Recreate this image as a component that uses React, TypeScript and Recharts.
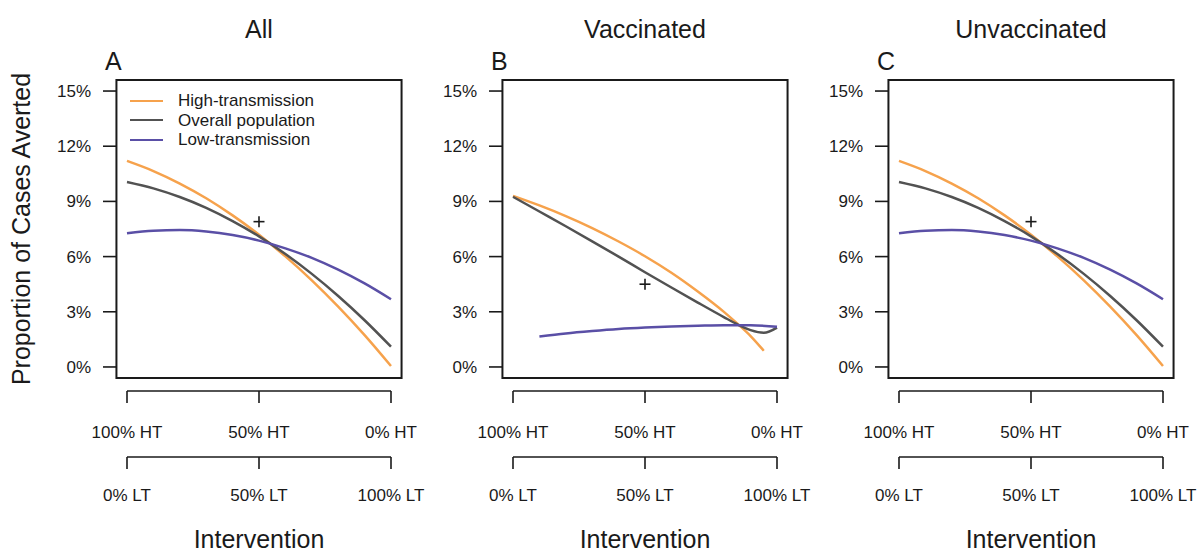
import React from 'react';
import { ComposedChart, Line, Scatter, XAxis, YAxis, ReferenceArea, Legend } from 'recharts';

const HIGH_COLOR = '#f6a24c';
const OVERALL_COLOR = '#525252';
const LOW_COLOR = '#5a4fa6';
const INK = '#1a1a1a';
const FONT = '"Liberation Sans", Arial, Helvetica, sans-serif';

// shared x grid (share of the intervention given to the high-transmission group, reversed)
const steps = [0, 0.1, 0.2, 0.3, 0.4, 0.5, 0.6, 0.7, 0.8, 0.9, 1];

// panel A - all
const allHigh = [11.2, 10.65, 9.97, 9.17, 8.24, 7.19, 6.01, 4.71, 3.28, 1.73, 0.05];
const allOverall = [10.06, 9.71, 9.24, 8.65, 7.93, 7.1, 6.14, 5.06, 3.86, 2.54, 1.1];
const allLow = [7.27, 7.41, 7.44, 7.36, 7.17, 6.87, 6.45, 5.93, 5.29, 4.54, 3.68];
const allMarker = 7.9;

// panel B - vaccinated
const vacHighX = [0, 0.1, 0.2, 0.3, 0.4, 0.5, 0.6, 0.7, 0.8, 0.85, 0.9, 0.95];
const vacHigh = [9.3, 8.78, 8.2, 7.55, 6.82, 6.02, 5.12, 4.1, 2.98, 2.35, 1.68, 0.88];
const vacOverallX = [0, 0.1, 0.2, 0.3, 0.4, 0.5, 0.6, 0.7, 0.8, 0.85, 0.9, 0.95, 1];
const vacOverall = [9.25, 8.45, 7.65, 6.83, 6.0, 5.15, 4.32, 3.5, 2.7, 2.32, 2.0, 1.86, 2.14];
const vacLowX = [0.1, 0.2, 0.3, 0.4, 0.5, 0.6, 0.7, 0.8, 0.9, 1];
const vacLow = [1.65, 1.82, 1.95, 2.06, 2.14, 2.2, 2.24, 2.27, 2.27, 2.18];
const vacMarker = 4.5;

// panel C - unvaccinated
const unvacHigh = [11.2, 10.65, 9.97, 9.17, 8.24, 7.19, 6.01, 4.71, 3.28, 1.73, 0.05];
const unvacOverall = [10.06, 9.71, 9.24, 8.65, 7.93, 7.1, 6.14, 5.06, 3.86, 2.54, 1.1];
const unvacLow = [7.27, 7.41, 7.44, 7.36, 7.17, 6.87, 6.45, 5.93, 5.29, 4.54, 3.68];
const unvacMarker = 7.9;

const yTicks = [0, 3, 6, 9, 12, 15];
const xTicks = [0, 0.5, 1];
const htLabels = ['100% HT', '50% HT', '0% HT'];
const ltLabels = ['0% LT', '50% LT', '100% LT'];

const legendItems = [
  { name: 'High-transmission', color: HIGH_COLOR },
  { name: 'Overall population', color: OVERALL_COLOR },
  { name: 'Low-transmission', color: LOW_COLOR },
];

type Pt = { x: number; y: number };
const zip = (xs: number[], ys: number[]): Pt[] => xs.map((x, i) => ({ x, y: ys[i] }));

const PLOT_W = 264;
const Y_AXIS_W = 60;
const Y_GAP = 10;
const CHART_W = Y_AXIS_W + Y_GAP + PLOT_W + 40;
const CHART_H = 552;

function PlusMark(props: any) {
  const { cx, cy } = props;
  if (cx == null || cy == null) return null;
  return (
    <g>
      <line x1={cx - 5.5} x2={cx + 5.5} y1={cy} y2={cy} stroke={INK} strokeWidth={1.6} />
      <line x1={cx} x2={cx} y1={cy - 5.5} y2={cy + 5.5} stroke={INK} strokeWidth={1.6} />
    </g>
  );
}

function CurveLegend() {
  return (
    <div style={{ fontFamily: FONT, fontSize: 17, color: INK, lineHeight: '19.5px' }}>
      {legendItems.map((entry) => (
        <div key={entry.name} style={{ display: 'flex', alignItems: 'center', whiteSpace: 'nowrap' }}>
          <span
            style={{
              display: 'inline-block',
              width: 33,
              height: 0,
              borderTop: `2.5px solid ${entry.color}`,
              marginRight: 15,
            }}
          />
          {entry.name}
        </div>
      ))}
    </div>
  );
}

function Panel({
  left,
  high,
  overall,
  low,
  marker,
  showLegend,
}: {
  left: number;
  high: Pt[];
  overall: Pt[];
  low: Pt[];
  marker: number;
  showLegend?: boolean;
}) {
  const tickStyle = { fill: INK, fontSize: 17, fontFamily: FONT };
  return (
    <div style={{ position: 'absolute', left, top: 0 }}>
      <ComposedChart width={CHART_W} height={CHART_H} margin={{ top: 80, right: 40, bottom: 35, left: 0 }}>
        <YAxis yAxisId="gap" width={Y_GAP} tick={false} axisLine={false} tickLine={false} domain={[0, 1]} type="number" />
        <YAxis
          yAxisId="val"
          width={Y_AXIS_W}
          type="number"
          domain={[-0.6, 15.6]}
          ticks={yTicks}
          tickFormatter={(v: number) => `${v}%`}
          axisLine={false}
          tickSize={14}
          tickMargin={12}
          tickLine={{ stroke: INK, strokeWidth: 1.6 }}
          tick={tickStyle}
          interval={0}
        />
        <XAxis xAxisId="gap" dataKey="x" type="number" domain={[0, 1]} height={13} tick={false} axisLine={false} tickLine={false} />
        <XAxis
          xAxisId="ht"
          dataKey="x"
          type="number"
          domain={[0, 1]}
          ticks={xTicks}
          interval={0}
          height={66}
          tickFormatter={(v: number) => htLabels[xTicks.indexOf(v)]}
          axisLine={{ stroke: INK, strokeWidth: 1.6 }}
          tickLine={{ stroke: INK, strokeWidth: 1.6 }}
          tickSize={12}
          tickMargin={23}
          tick={tickStyle}
        />
        <XAxis
          xAxisId="lt"
          dataKey="x"
          type="number"
          domain={[0, 1]}
          ticks={xTicks}
          interval={0}
          height={60}
          tickFormatter={(v: number) => ltLabels[xTicks.indexOf(v)]}
          axisLine={{ stroke: INK, strokeWidth: 1.6 }}
          tickLine={{ stroke: INK, strokeWidth: 1.6 }}
          tickSize={12}
          tickMargin={20}
          tick={tickStyle}
        />
        <ReferenceArea
          xAxisId="ht"
          yAxisId="val"
          x1={-0.04}
          x2={1.04}
          y1={-0.6}
          y2={15.6}
          fill="none"
          stroke={INK}
          strokeWidth={2}
          ifOverflow="visible"
        />
        <Line
          xAxisId="ht"
          yAxisId="val"
          data={high}
          dataKey="y"
          name="High-transmission"
          type="monotone"
          stroke={HIGH_COLOR}
          strokeWidth={2.5}
          dot={false}
          activeDot={false}
          isAnimationActive={false}
        />
        <Line
          xAxisId="ht"
          yAxisId="val"
          data={overall}
          dataKey="y"
          name="Overall population"
          type="monotone"
          stroke={OVERALL_COLOR}
          strokeWidth={2.5}
          dot={false}
          activeDot={false}
          isAnimationActive={false}
        />
        <Line
          xAxisId="ht"
          yAxisId="val"
          data={low}
          dataKey="y"
          name="Low-transmission"
          type="monotone"
          stroke={LOW_COLOR}
          strokeWidth={2.5}
          dot={false}
          activeDot={false}
          isAnimationActive={false}
        />
        <Scatter
          xAxisId="lt"
          yAxisId="val"
          data={[{ x: 0.5, y: marker }]}
          dataKey="y"
          shape={PlusMark}
          legendType="none"
          isAnimationActive={false}
        />
        {showLegend && (
          <Legend
            layout="vertical"
            align="center"
            verticalAlign="middle"
            content={<CurveLegend />}
            wrapperStyle={{ left: 73, top: 91, width: 'auto', height: 'auto' }}
          />
        )}
      </ComposedChart>
    </div>
  );
}

const panels = [
  { plotLeft: 127, letter: 'A', title: 'All' },
  { plotLeft: 513, letter: 'B', title: 'Vaccinated' },
  { plotLeft: 899, letter: 'C', title: 'Unvaccinated' },
];

export default function App() {
  const chartOffset = Y_AXIS_W + Y_GAP;
  return (
    <div style={{ position: 'absolute', left: 0, top: 0, width: 1198, height: 552, background: '#fff', overflow: 'hidden' }}>
      <Panel
        left={panels[0].plotLeft - chartOffset}
        high={zip(steps, allHigh)}
        overall={zip(steps, allOverall)}
        low={zip(steps, allLow)}
        marker={allMarker}
        showLegend
      />
      <Panel
        left={panels[1].plotLeft - chartOffset}
        high={zip(vacHighX, vacHigh)}
        overall={zip(vacOverallX, vacOverall)}
        low={zip(vacLowX, vacLow)}
        marker={vacMarker}
      />
      <Panel
        left={panels[2].plotLeft - chartOffset}
        high={zip(steps, unvacHigh)}
        overall={zip(steps, unvacOverall)}
        low={zip(steps, unvacLow)}
        marker={unvacMarker}
      />
      <svg
        width={1198}
        height={552}
        style={{ position: 'absolute', left: 0, top: 0, pointerEvents: 'none' }}
        fontFamily={FONT}
        fill={INK}
      >
        <text transform="rotate(-90)" x={-229} y={30} fontSize={25} textAnchor="middle">
          Proportion of Cases Averted
        </text>
        {panels.map((p) => (
          <g key={p.letter}>
            <text x={p.plotLeft + PLOT_W / 2} y={38} fontSize={25} textAnchor="middle">
              {p.title}
            </text>
            <text x={p.plotLeft - 22} y={70} fontSize={25}>
              {p.letter}
            </text>
            <text x={p.plotLeft + PLOT_W / 2} y={548} fontSize={25} textAnchor="middle">
              Intervention
            </text>
          </g>
        ))}
      </svg>
    </div>
  );
}
